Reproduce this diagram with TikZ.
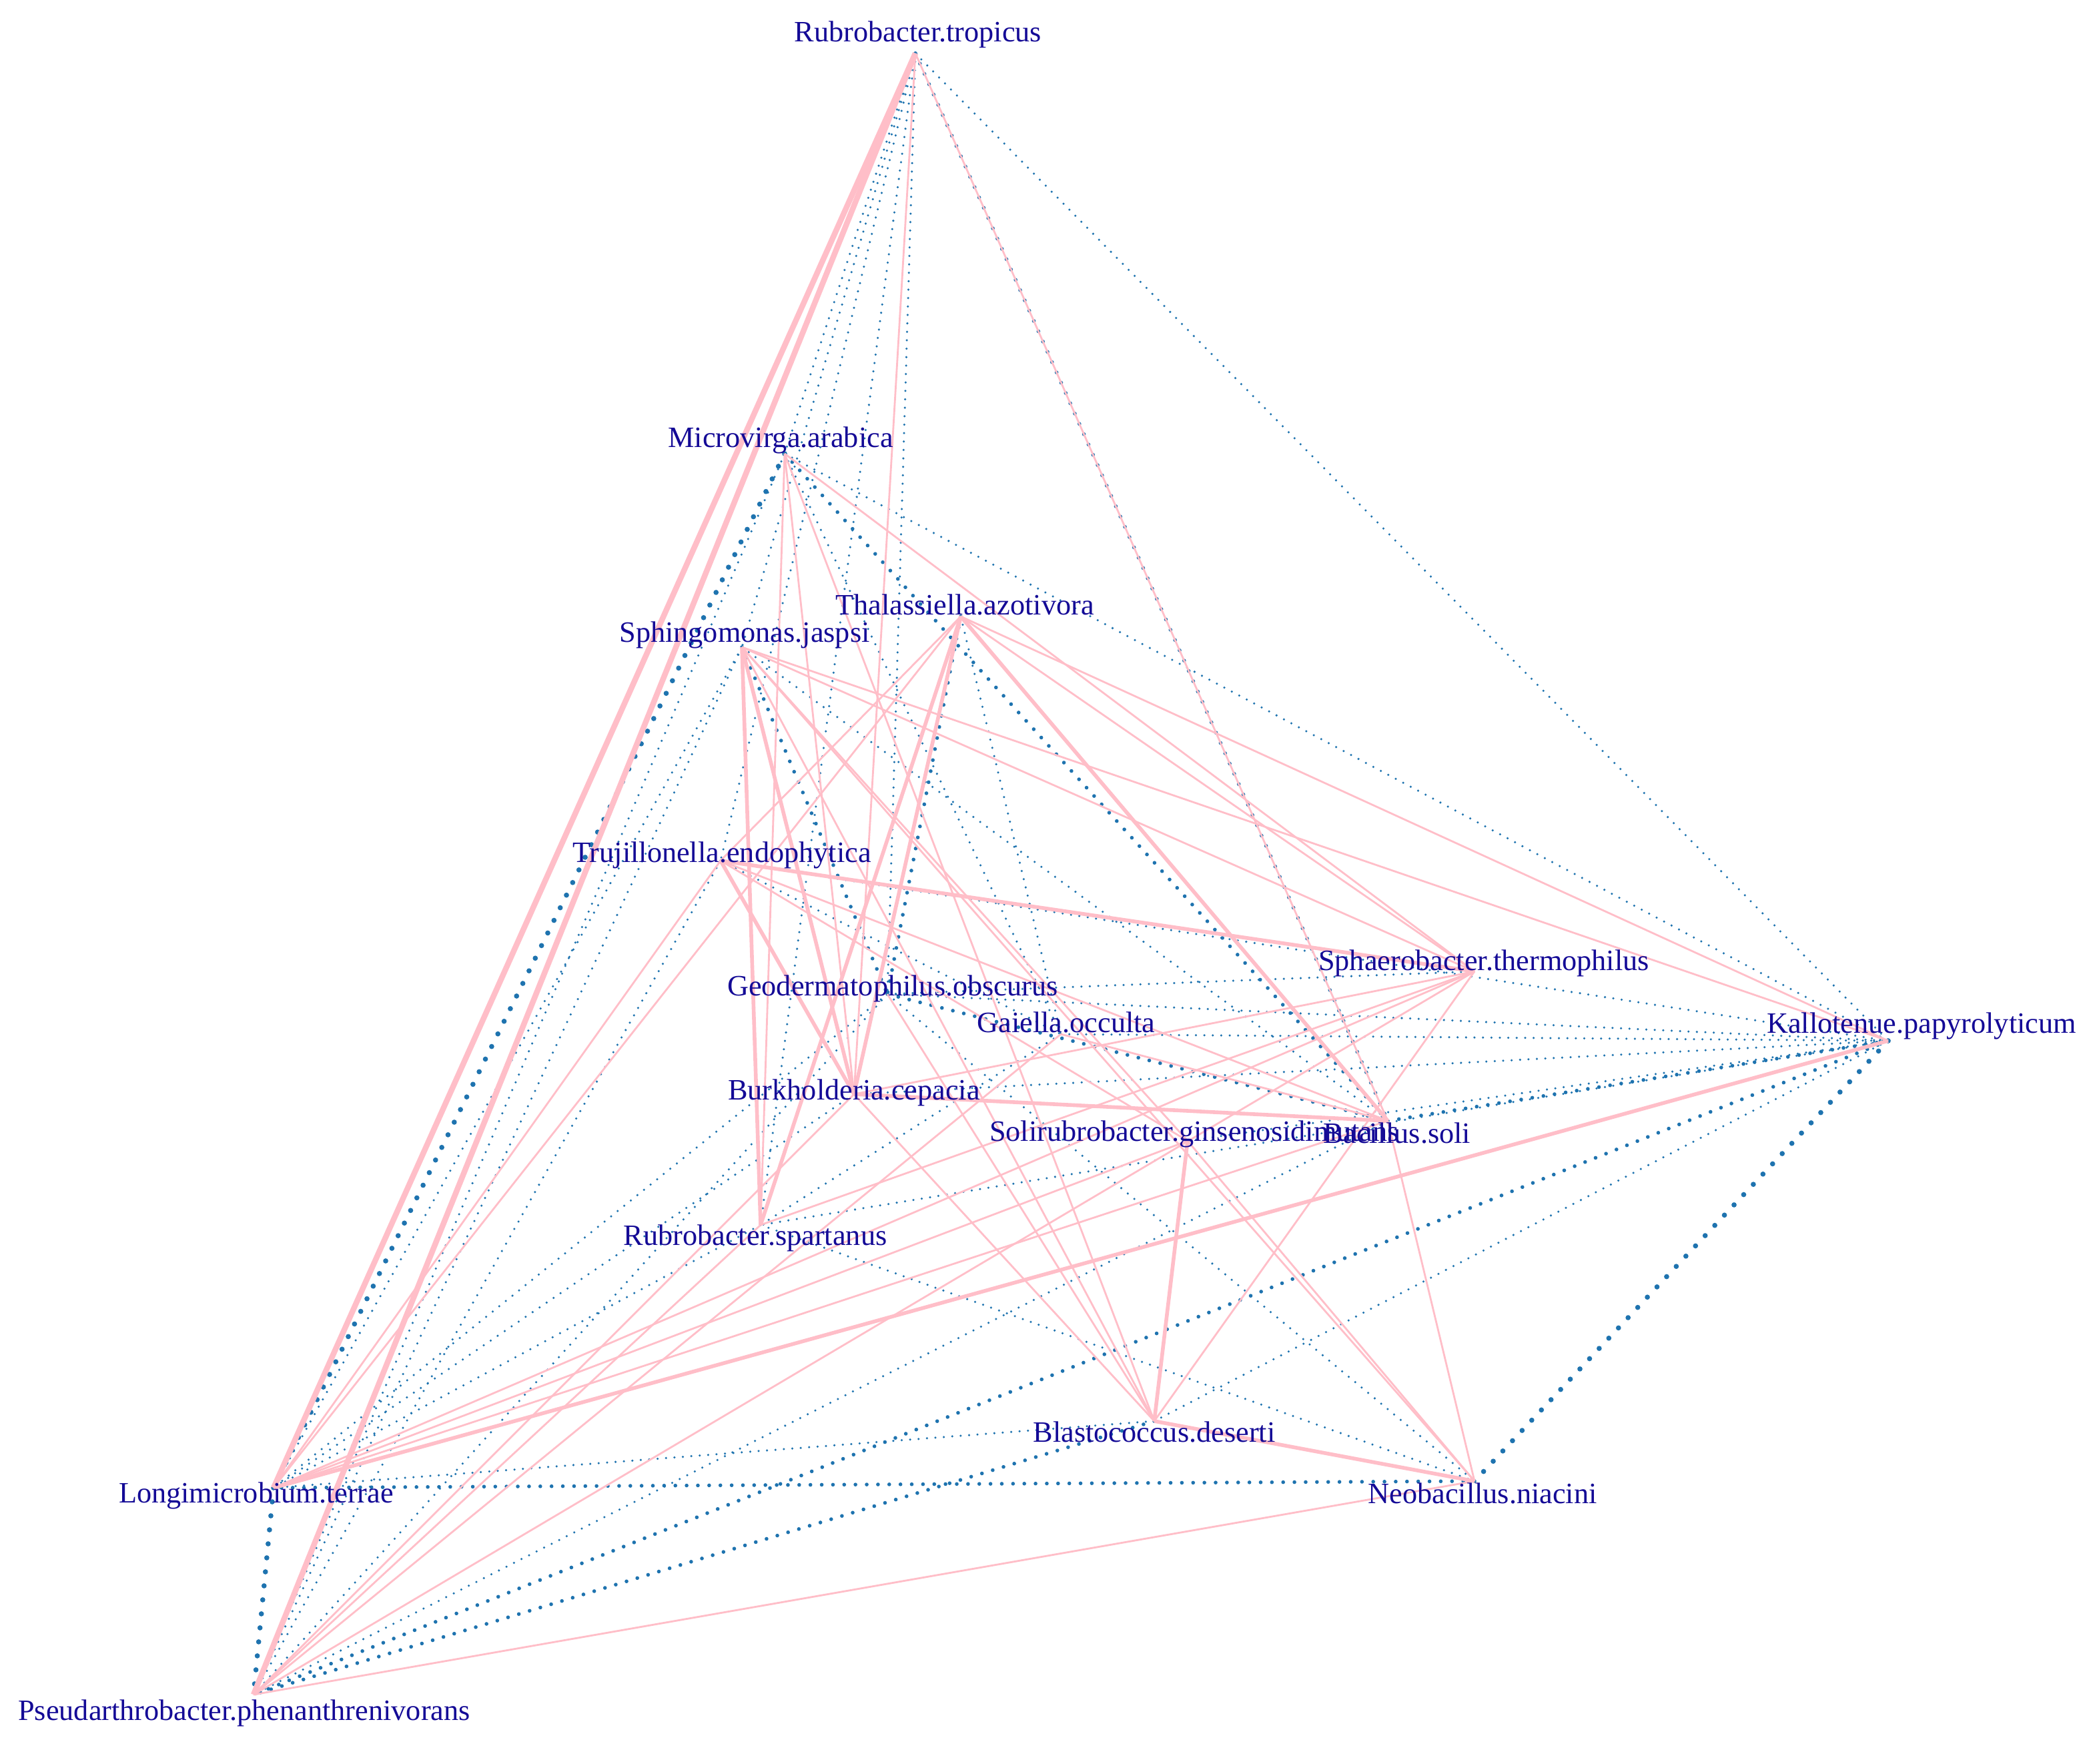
\documentclass[tikz,border=0pt]{standalone}
\usepackage{fontspec}
\setmainfont{Liberation Serif}
\begin{document}
\definecolor{poscol}{RGB}{255,190,200}
\definecolor{negcol}{RGB}{30,115,175}
\definecolor{lab}{RGB}{20,10,150}
\begin{tikzpicture}[x=1mm,y=-1mm,
 p1/.style={draw=poscol,line width=4pt},
 p2/.style={draw=poscol,line width=8pt},
 p3/.style={draw=poscol,line width=12pt},
 n1/.style={draw=negcol,line width=5pt,line cap=round,dash pattern=on 0pt off 18pt},
 n2/.style={draw=negcol,line width=8pt,line cap=round,dash pattern=on 0pt off 24pt},
 n3/.style={draw=negcol,line width=11pt,line cap=round,dash pattern=on 0pt off 30pt},
 lb/.style={text=lab,font=\fontsize{63}{70}\selectfont,inner sep=0pt}]
\useasboundingbox (0,0) rectangle (1570,1322);
\coordinate (RT) at (686,40);
\coordinate (MA) at (588,340);
\coordinate (TA) at (720,462);
\coordinate (SJ) at (556,485);
\coordinate (TE) at (540,645);
\coordinate (ST) at (1105,728);
\coordinate (GO) at (665,745);
\coordinate (GA) at (795,775);
\coordinate (KP) at (1415,780);
\coordinate (BC) at (640,820);
\coordinate (SG) at (890,855);
\coordinate (BS) at (1040,840);
\coordinate (RS) at (570,918);
\coordinate (BD) at (865,1065);
\coordinate (NN) at (1105,1110);
\coordinate (LT) at (205,1115);
\coordinate (PP) at (190,1270);
% negative (dotted) edges
\foreach \a/\b/\s in {RT/KP/n1,RT/BS/n2,RT/MA/n1,RT/SJ/n1,RT/TE/n1,RT/RS/n1,RT/GO/n1,
 MA/KP/n1,MA/LT/n3,MA/PP/n1,MA/BS/n2,MA/GA/n1,TA/GO/n2,TA/GA/n1,
 SJ/LT/n1,SJ/PP/n1,SJ/GO/n2,SJ/BS/n1,TE/PP/n1,TE/GA/n1,TE/KP/n1,
 GO/ST/n1,GO/KP/n1,GO/BS/n2,GO/NN/n1,GO/LT/n1,GO/PP/n1,GA/KP/n1,GA/RS/n1,
 BC/KP/n1,BC/LT/n1,SG/KP/n1,BS/KP/n2,BS/PP/n1,KP/NN/n3,KP/PP/n2,KP/BD/n1,KP/RS/n1,
 RS/NN/n1,RS/LT/n1,BD/LT/n1,BD/PP/n2,NN/LT/n2,LT/PP/n3,RT/LT/n2}
 {\path[\s] (\a) -- (\b);}
% positive edges
\foreach \a/\b/\s in {RT/LT/p3,RT/PP/p3,RT/BC/p1,RT/BS/p1,
 MA/RS/p1,MA/BC/p1,MA/BD/p1,MA/ST/p1,
 TA/RS/p2,TA/BC/p2,TA/BS/p2,TA/ST/p1,TA/LT/p1,TA/KP/p1,TA/TE/p1,
 SJ/RS/p2,SJ/BC/p2,SJ/ST/p1,SJ/KP/p1,SJ/SG/p1,SJ/NN/p1,SJ/BD/p1,
 TE/ST/p2,TE/BC/p2,TE/BS/p1,TE/SG/p1,TE/LT/p1,GO/BD/p1,
 GA/BS/p1,GA/PP/p1,BC/BS/p2,BC/ST/p1,BC/BD/p1,BC/PP/p1,
 SG/BD/p2,SG/NN/p1,SG/LT/p1,BS/NN/p1,BS/LT/p1,
 ST/LT/p1,ST/BD/p1,ST/RS/p1,ST/PP/p1,KP/LT/p2,RS/PP/p1,BD/NN/p2,NN/PP/p1}
 {\path[\s] (\a) -- (\b);}
% labels
\node[lb] (lRT) at (688,26) {Rubrobacter.tropicus};
\node[lb] (lMA) at (585,330) {Microvirga.arabica};
\node[lb] (lTA) at (723,453) {Thalassiella.azotivora};
\node[lb] (lSJ) at (558,476) {Sphingomonas.jaspsi};
\node[lb] (lTE) at (541,641) {Trujillonella.endophytica};
\node[lb] (lST) at (1112,722) {Sphaerobacter.thermophilus};
\node[lb] (lGO) at (669,741) {Geodermatophilus.obscurus};
\node[lb] (lGA) at (799,766) {Gaiella.occulta};
\node[lb] (lKP) at (1440,769) {Kallotenue.papyrolyticum};
\node[lb] (lBC) at (640,819) {Burkholderia.cepacia};
\node[lb] (lSG) at (895,850) {Solirubrobacter.ginsenosidimutans};
\node[lb] (lBS) at (1047,849) {Bacillus.soli};
\node[lb] (lRS) at (566,928) {Rubrobacter.spartanus};
\node[lb] (lBD) at (865,1073) {Blastococcus.deserti};
\node[lb] (lNN) at (1111,1119) {Neobacillus.niacini};
\node[lb] (lLT) at (192,1121) {Longimicrobium.terrae};
\node[lb] (lPP) at (183,1284) {Pseudarthrobacter.phenanthrenivorans};
\end{tikzpicture}
\end{document}
